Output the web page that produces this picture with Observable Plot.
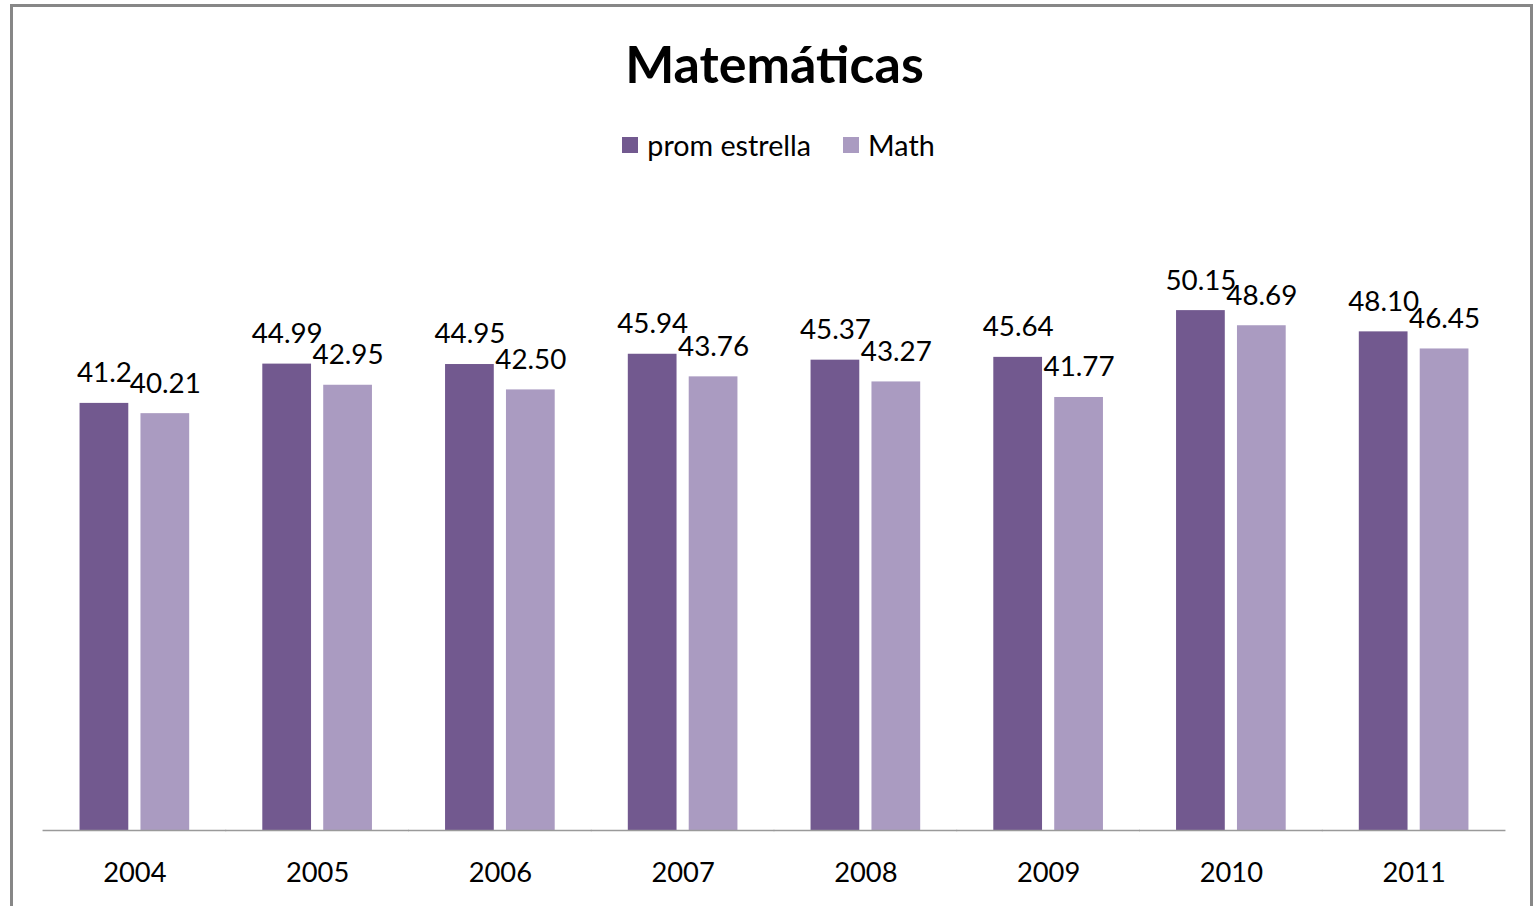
<!DOCTYPE html>
<html>
<head>
<meta charset="utf-8">
<script src="https://cdn.jsdelivr.net/npm/d3@7"></script>
<script src="https://cdn.jsdelivr.net/npm/@observablehq/plot@0.6"></script>
<style>
  html, body { margin: 0; padding: 0; background: #fff; overflow: hidden; width: 1538px; height: 906px; }
  #frame { position: absolute; left: 10px; top: 4px; width: 1517px; height: 920px; border: 3px solid #878787; background: #fff; font-family: Lato, "Open Sans", sans-serif; }
  #header { position: relative; height: 173px; }
  #title { position: absolute; left: 0; right: 0; top: 24px; line-height: 64px; text-align: center; font-weight: bold; font-size: 52px; color: #000; padding-left: 6px; }
  #legend { position: absolute; left: 0; right: 0; top: 123px; line-height: 30px; display: flex; justify-content: center; gap: 32px; font-size: 28.7px; color: #000; padding-left: 14px; }
  .item { display: flex; align-items: center; gap: 9px; }
  .sw { width: 16px; height: 16px; display: inline-block; }
</style>
</head>
<body>
<div id="frame">
  <div id="header">
    <div id="title"></div>
    <div id="legend"></div>
  </div>
  <div id="chart"></div>
</div>
<script>
const title = "Matemáticas";
const years = ["2004", "2005", "2006", "2007", "2008", "2009", "2010", "2011"];
const seriesNames = ["prom estrella", "Math"];
const seriesColors = ["#72598f", "#aa9bc1"];
const promEstrella = [41.2, 44.99, 44.95, 45.94, 45.37, 45.64, 50.15, 48.10];
const promEstrellaLabels = ["41.2", "44.99", "44.95", "45.94", "45.37", "45.64", "50.15", "48.10"];
const math = [40.21, 42.95, 42.50, 43.76, 43.27, 41.77, 48.69, 46.45];
const mathLabels = ["40.21", "42.95", "42.50", "43.76", "43.27", "41.77", "48.69", "46.45"];

document.getElementById("title").textContent = title;
const legend = document.getElementById("legend");
seriesNames.forEach((name, i) => {
  const item = document.createElement("div");
  item.className = "item";
  const sw = document.createElement("span");
  sw.className = "sw";
  sw.style.background = seriesColors[i];
  const label = document.createElement("span");
  label.textContent = name;
  item.appendChild(sw);
  item.appendChild(label);
  legend.appendChild(item);
});

const data = [];
years.forEach((year, i) => {
  data.push({year, series: seriesNames[0], value: promEstrella[i], label: promEstrellaLabels[i]});
  data.push({year, series: seriesNames[1], value: math[i], label: mathLabels[i]});
});

const chart = Plot.plot({
  width: 1517,
  height: 726,
  marginLeft: 30,
  marginRight: 25,
  marginTop: 28,
  marginBottom: 76,
  style: {fontFamily: "Lato, 'Open Sans', sans-serif", fontSize: "27.3px", color: "#000", background: "#fff"},
  facet: {data, x: "year"},
  fx: {domain: years, paddingInner: 0.4, paddingOuter: 0.2, round: false, axis: "bottom", label: null, tickSize: 0, tickPadding: 32},
  x: {domain: seriesNames, paddingInner: 0.2, paddingOuter: 0, round: false, axis: null},
  y: {domain: [0, 60], axis: null},
  color: {domain: seriesNames, range: seriesColors},
  marks: [
    Plot.barY(data, {x: "series", y: "value", fill: "series"}),
    Plot.ruleY([0], {stroke: "#9a9a9a", strokeWidth: 1.5, insetLeft: -37, insetRight: -37}),
    Plot.text(data, {x: "series", y: "value", text: "label", fontSize: 27.8, fill: "#000", lineAnchor: "middle", dy: -30})
  ]
});
document.getElementById("chart").appendChild(chart);
</script>
</body>
</html>
